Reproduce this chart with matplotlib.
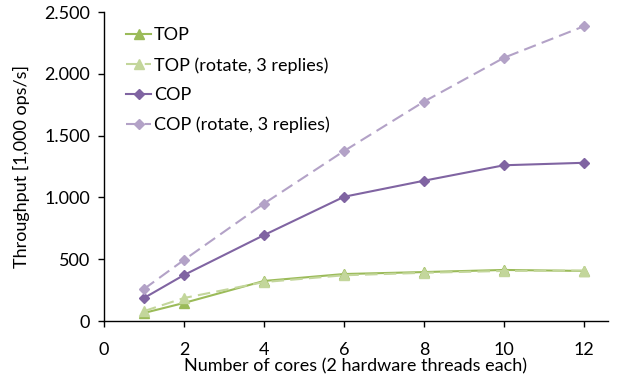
import matplotlib.pyplot as plt
from matplotlib.ticker import FuncFormatter

# --- Data ---
cores = [1, 2, 4, 6, 8, 10, 12]
top = [65, 146, 324, 380, 396, 413, 405]
top_rot = [80, 186, 315, 370, 390, 405, 408]
cop = [186, 372, 695, 1005, 1135, 1260, 1280]
cop_rot = [259, 494, 950, 1375, 1775, 2130, 2385]

x_ticks = [0, 2, 4, 6, 8, 10, 12]
y_ticks = [0, 500, 1000, 1500, 2000, 2500]

plt.rcParams['font.family'] = ['Lato', 'DejaVu Sans']
fs = 13

fig = plt.figure(figsize=(6.24, 3.86), dpi=100)
ax = fig.add_axes([104 / 624, 65 / 386, 504 / 624, 309 / 386])

ax.plot(cores, top, color='#9BBB59', lw=1.5, marker='^', ms=7, label='TOP')
ax.plot(cores, top_rot, color='#C3D69B', lw=1.5, ls=(0, (6, 3)), marker='^', ms=7,
        label='TOP (rotate, 3 replies)')
ax.plot(cores, cop, color='#8064A2', lw=1.5, marker='D', ms=5, label='COP')
ax.plot(cores, cop_rot, color='#B3A2C7', lw=1.5, ls=(0, (6, 3)), marker='D', ms=5,
        label='COP (rotate, 3 replies)')

ax.set_xlim(0, 12.6)
ax.set_ylim(0, 2500)
ax.set_xticks(x_ticks)
ax.set_yticks(y_ticks)
ax.yaxis.set_major_formatter(FuncFormatter(lambda v, p: f"{int(v):,}".replace(',', '.')))

for s in ['top', 'right']:
    ax.spines[s].set_visible(False)
for s in ['left', 'bottom']:
    ax.spines[s].set_color('#000000')
    ax.spines[s].set_linewidth(1.0)
ax.tick_params(direction='out', length=4, width=1, colors='#000000', labelsize=fs)
ax.tick_params(axis='y', pad=6)
ax.tick_params(axis='x', pad=11)

ax.set_xlabel('Number of cores (2 hardware threads each)', fontsize=fs, labelpad=0)
ax.set_ylabel('Throughput [1,000 ops/s]', fontsize=fs, labelpad=10)

ax.legend(loc='upper left', frameon=False, handlelength=1.4, handletextpad=0.15,
          fontsize=fs, labelspacing=0.75, borderpad=0, borderaxespad=0,
          bbox_to_anchor=(0.044, 0.95))

fig.savefig('out.png', dpi=100)
